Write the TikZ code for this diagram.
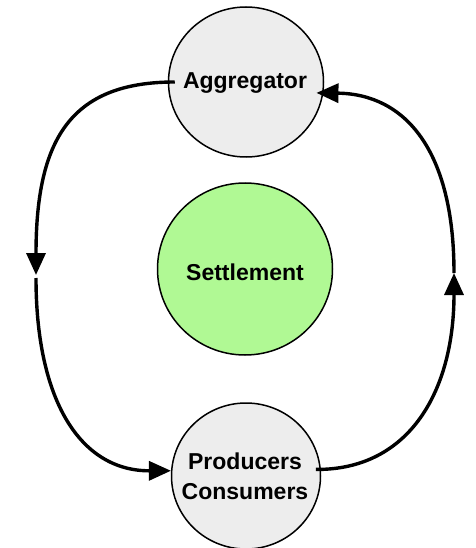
\documentclass[tikz,border=0pt]{standalone}
\usepackage{fontspec}
\setmainfont{Liberation Sans}
\usetikzlibrary{shapes.geometric,arrows.meta}
\definecolor{nodegrey}{RGB}{237,237,237}
\definecolor{settlegreen}{RGB}{176,249,148}
\begin{document}
\begin{tikzpicture}[x=1pt,y=-1pt,
  bubble/.style={ellipse,draw=black,line width=1.5pt,inner sep=0pt},
  lbl/.style={font=\bfseries\fontsize{23}{30}\selectfont,inner sep=0pt,align=center},
  flow/.style={line width=3.4pt,-{Triangle[length=22pt,width=19pt]}}]
\useasboundingbox (0,0) rectangle (475,548);
\node[bubble,fill=nodegrey,minimum width=155pt,minimum height=150pt] (agg) at (246,82) {};
\node[bubble,fill=settlegreen,minimum width=175pt,minimum height=172pt] (set) at (245,269) {};
\node[bubble,fill=nodegrey,minimum width=149pt,minimum height=146pt] (pc) at (246,476) {};
\node[lbl,anchor=base] (aggt) at (245,89) {Aggregator};
\node[lbl,anchor=base] (sett) at (245,280) {Settlement};
\node[lbl,anchor=north] (pct) at (245,453) {Producers\\Consumers};
\coordinate (lmA) at (36,275);
\coordinate (lmB) at (36,278);
\coordinate (rm) at (454,273);
\draw[flow] ([xshift=7pt]agg.west) .. controls (70,82) and (36,140) .. (lmA);
\draw[flow] (lmB) .. controls (36,400) and (80,471) .. (pc.176);
\draw[flow] ([xshift=-5pt]pc.5) .. controls (410,470) and (454,390) .. (rm);
\draw[flow] (rm) .. controls (454,150) and (405,94) .. ([xshift=-7pt]agg.-8);
\end{tikzpicture}
\end{document}
